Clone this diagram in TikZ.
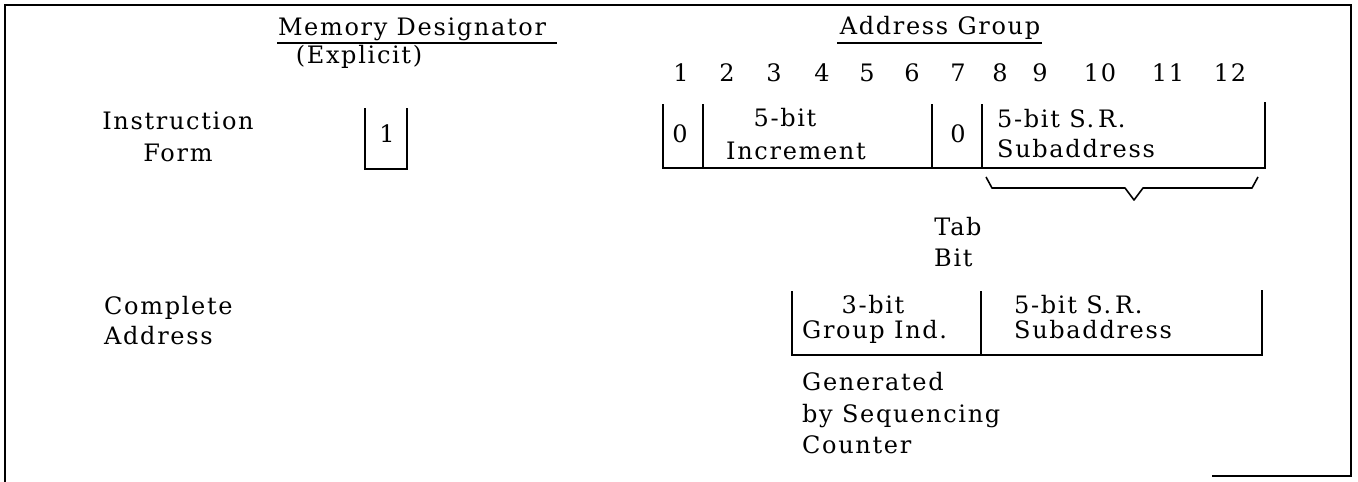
\documentclass[tikz,border=0pt]{standalone}
\usepackage{fontspec}
\setmainfont{DejaVu Serif}[LetterSpace=7]
\begin{document}
\begin{tikzpicture}[x=1pt,y=-1pt,
  txt/.style={inner sep=0pt, font=\fontsize{24}{29}\selectfont},
  bw/.style={txt, anchor=base west},
  bc/.style={txt, anchor=base},
  ln/.style={line width=1.8pt, line cap=rect},
  frm/.style={line width=2pt}]
\useasboundingbox (0,0) rectangle (1358,482);
% frame
\draw[frm] (5,482) -- (5,5) -- (1351,5) -- (1351,476) -- (1212,476);
% headers
\node[bc] (mem) at (412,35) {Memory Designator};
\draw[line width=1.5pt] (277,43) -- (557,43);
\node[bc] (expl) at (359,63) {(Explicit)};
\node[bc] (addr) at (940,34) {Address Group};
\draw[line width=1.5pt] (837,43) -- (1042,43);
% bit numbers
\foreach \n/\x in {1/681,2/727,3/774,4/822,5/867,6/912,7/958,8/1000,9/1040,10/1100,11/1168,12/1230}
  \node[bc] (b\n) at (\x,81) {\n};
% row labels
\node[bc] (instr1) at (178,129) {Instruction};
\node[bc] (instr2) at (178,161) {Form};
\node[bw] (comp1) at (104,314) {Complete};
\node[bw] (comp2) at (104,344) {Address};
% memory designator box
\coordinate (m1) at (365,109); \coordinate (m2) at (365,169);
\coordinate (m3) at (407,169); \coordinate (m4) at (407,109);
\draw[ln] (m1) -- (m2) -- (m3) -- (m4);
\node[bc] (one) at (387,142) {1};
% address group box
\coordinate (a0t) at (663,105); \coordinate (a0b) at (663,168);
\coordinate (a1t) at (703,105); \coordinate (a1b) at (703,168);
\coordinate (a2t) at (932,105); \coordinate (a2b) at (932,168);
\coordinate (a3t) at (982,105); \coordinate (a3b) at (982,168);
\coordinate (a4t) at (1265,103); \coordinate (a4b) at (1265,168);
\draw[ln] (a0t) -- (a0b) -- (a4b) -- (a4t);
\draw[ln] (a1t) -- (a1b);
\draw[ln] (a2t) -- (a2b);
\draw[ln] (a3t) -- (a3b);
\node[bc] (z1) at (680,142) {0};
\node[bc] (inc1) at (785,126) {5-bit};
\node[bw] (inc2) at (726,159) {Increment};
\node[bc] (z2) at (958,142) {0};
\node[bw] (sr1) at (997,127) {5-bit S.\,R.};
\node[bw] (sr2) at (997,157) {Subaddress};
% brace
\coordinate (br1) at (986,177); \coordinate (br2) at (992,188);
\coordinate (br3) at (1125,188); \coordinate (tip) at (1134,200);
\coordinate (br5) at (1143,188); \coordinate (br6) at (1252,188);
\coordinate (br7) at (1258,177);
\draw[line width=1.6pt, line join=round] (br1) -- (br2) -- (br3) -- (tip) -- (br5) -- (br6) -- (br7);
\node[bc] (tab1) at (958,235) {Tab};
\node[bw] (tab2) at (934,266) {Bit};
% complete address box
\coordinate (c0t) at (792,292); \coordinate (c0b) at (792,355);
\coordinate (c1t) at (981,292); \coordinate (c1b) at (981,355);
\coordinate (c2t) at (1262,291); \coordinate (c2b) at (1262,355);
\draw[ln] (c0t) -- (c0b) -- (c2b) -- (c2t);
\draw[ln] (c1t) -- (c1b);
\node[bc] (g1) at (873,313) {3-bit};
\node[bw] (g2) at (802,338) {Group Ind.};
\node[bw] (s1) at (1014,313) {5-bit S.\,R.};
\node[bw] (s2) at (1014,338) {Subaddress};
\node[bw] (gen1) at (802,390) {Generated};
\node[bw] (gen2) at (802,422) {by Sequencing};
\node[bw] (gen3) at (802,453) {Counter};
\end{tikzpicture}
\end{document}
